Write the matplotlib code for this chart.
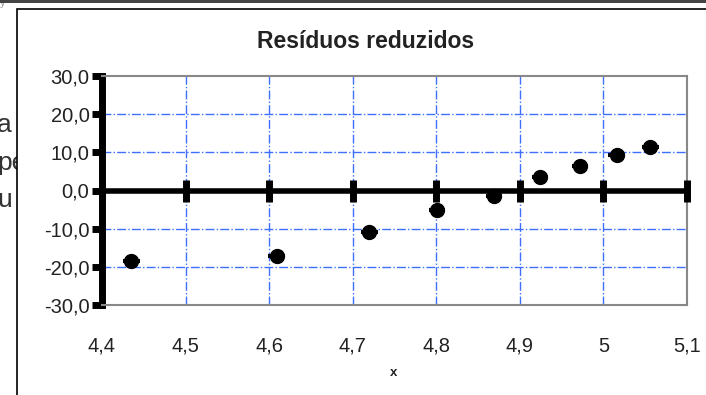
import matplotlib.pyplot as plt
from matplotlib.patches import Rectangle
from matplotlib.ticker import FuncFormatter

plt.rcParams['font.family'] = ['Liberation Sans', 'DejaVu Sans']

# residuos reduzidos
x = [4.435, 4.609, 4.720, 4.801, 4.869, 4.924, 4.972, 5.016, 5.056]
res = [-18.5, -17.1, -10.9, -5.1, -1.4, 3.5, 6.4, 9.3, 11.4]

xticks = [4.4, 4.5, 4.6, 4.7, 4.8, 4.9, 5.0, 5.1]
yticks = [-30, -20, -10, 0, 10, 20, 30]

fig = plt.figure(figsize=(7.06, 3.95), dpi=100)

# bits of the page text behind the chart
for yy, s in [(0.665, 'a'), (0.57, 'pe'), (0.475, 'u')]:
    fig.text(-0.004, yy, s, fontsize=19, color='#333333', zorder=0)
fig.text(0.0, 0.985, 'y', fontsize=8, color='#999999', zorder=0)

# chart frame
fig.patches.append(Rectangle((17 / 706, -0.1), 1.0, 1 - 9 / 395 + 0.1,
                             transform=fig.transFigure, facecolor='white',
                             edgecolor='black', lw=1.2, zorder=1))
fig.patches.append(Rectangle((0, 1 - 3 / 395), 1.0, 3 / 395,
                             transform=fig.transFigure, facecolor='#444444',
                             edgecolor='none', zorder=1))

ax = fig.add_axes([102 / 706, 1 - 305 / 395, 585 / 706, 229 / 395], zorder=2)
ax.set_xlim(4.4, 5.1)
ax.set_ylim(-30, 30)

for xt in xticks[1:-1]:
    ax.axvline(xt, color='#3f6fff', lw=1, ls='-.', zorder=1)
for yt in yticks[1:-1]:
    if yt != 0:
        ax.axhline(yt, color='#3f6fff', lw=1, ls='-.', zorder=1)

ax.axhline(0, color='black', lw=4, zorder=3)
ax.plot(xticks[1:], [0] * 7, ls='none', marker='|', ms=16, mew=5,
        color='black', zorder=3, clip_on=False)

ax.errorbar(x, res, xerr=0.01, yerr=0.9, fmt='o', ms=10, color='black',
            elinewidth=3, capsize=0, zorder=4)

for s in ['top', 'right', 'bottom']:
    ax.spines[s].set_color('#888888')
    ax.spines[s].set_linewidth(1.5)
ax.spines['left'].set_color('black')
ax.spines['left'].set_linewidth(5)

ax.set_xticks(xticks)
ax.set_yticks(yticks)
ax.xaxis.set_major_formatter(FuncFormatter(lambda v, p: ('%g' % round(v, 1)).replace('.', ',')))
ax.yaxis.set_major_formatter(FuncFormatter(lambda v, p: ('%.1f' % v).replace('.', ',')))
ax.tick_params(axis='x', length=0, pad=23, labelsize=14.5, labelcolor='#222222')
ax.tick_params(axis='y', length=7, width=5, pad=2, labelsize=14.5, labelcolor='#222222')

fig.text(366 / 706, 1 - 42 / 395, 'Resíduos reduzidos', fontsize=16.5, fontweight='bold',
         color='#222222', ha='center', va='center', zorder=3)
fig.text(394 / 706, 1 - 373 / 395, 'x', fontsize=9.5, fontweight='bold',
         color='#222222', ha='center', va='center', zorder=3)

fig.savefig('out.png', dpi=100)
